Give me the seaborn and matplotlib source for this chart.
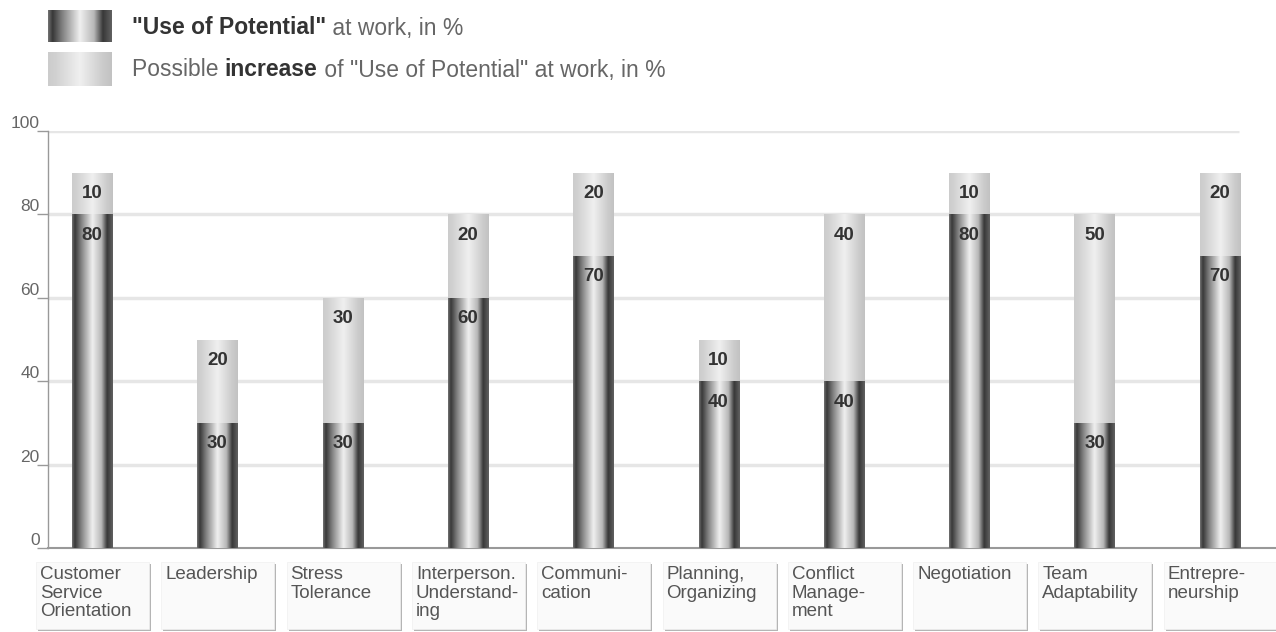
import numpy as np
import pandas as pd
import matplotlib
matplotlib.use("Agg")
import matplotlib.pyplot as plt
import seaborn as sns
from matplotlib.patches import Rectangle

categories = ["Customer\nService\nOrientation", "Leadership", "Stress\nTolerance",
              "Interperson.\nUnderstand-\ning", "Communi-\ncation", "Planning,\nOrganizing",
              "Conflict\nManage-\nment", "Negotiation", "Team\nAdaptability", "Entrepre-\nneurship"]
use_of_potential = [80, 30, 30, 60, 70, 40, 40, 80, 30, 70]
possible_increase = [10, 20, 30, 20, 20, 10, 40, 10, 50, 20]
y_ticks = [0, 20, 40, 60, 80, 100]

W, H = 1276, 632
sns.set_theme(style="white")
plt.rcParams["font.family"] = ["Liberation Sans", "DejaVu Sans"]

df = pd.DataFrame({"cat": categories,
                   "use": use_of_potential,
                   "inc": possible_increase})
df["total"] = df["use"] + df["inc"]

fig = plt.figure(figsize=(W / 100, H / 100), dpi=100)
ax = fig.add_axes([48 / W, (H - 548) / H, (1275 - 48) / W, (548 - 131) / H])

# cylinder-ish gradients
def make_grad(pos, vals, n=200):
    x = np.linspace(0, 1, n)
    g = np.interp(x, pos, vals)
    return np.dstack([g, g, g])[0:1].repeat(2, axis=0)

dark_grad = make_grad([0, 0.07, 0.22, 0.5, 0.72, 0.86, 1.0],
                      [0.45, 0.22, 0.5, 0.94, 0.72, 0.22, 0.38])
light_grad = make_grad([0, 0.12, 0.5, 0.85, 1.0],
                       [0.80, 0.82, 0.94, 0.80, 0.76])

sns.barplot(data=df, x="cat", y="total", color="#dddddd", width=0.32, ax=ax,
            saturation=1, zorder=2)
n_light = len(ax.patches)
sns.barplot(data=df, x="cat", y="use", color="#555555", width=0.32, ax=ax,
            saturation=1, zorder=3)

for i, p in enumerate(ax.patches):
    grad = light_grad if i < n_light else dark_grad
    x0, y0 = p.get_x(), p.get_y()
    w, h = p.get_width(), p.get_height()
    im = ax.imshow(grad, extent=[x0, x0 + w, y0, y0 + h], aspect="auto",
                   zorder=p.get_zorder(), interpolation="bilinear")
    im.set_clip_path(p)
    p.set_alpha(0)

ax.set_xlim(-0.351, 9.44)
ax.set_ylim(0, 100)

# gridlines
ax.hlines(y_ticks[1:], -0.351, 9.15, color="#e6e6e6", lw=2.5, zorder=0)

# value labels
for i, (u, inc) in enumerate(zip(use_of_potential, possible_increase)):
    ax.text(i, u - 5, str(u), ha="center", va="center", fontsize=13.5,
            fontweight="bold", color="#333333", zorder=5)
    ax.text(i, u + inc - 5, str(inc), ha="center", va="center", fontsize=13.5,
            fontweight="bold", color="#333333", zorder=5)

for s in ["top", "right"]:
    ax.spines[s].set_visible(False)
ax.spines["left"].set_color("#999999")
ax.spines["left"].set_linewidth(1)
ax.spines["bottom"].set_color("#999999")
ax.spines["bottom"].set_linewidth(1.5)
ax.set_yticks(y_ticks)
ax.tick_params(axis="y", length=8, width=1, color="#999999", labelsize=12.5,
               labelcolor="#666666", pad=-2, left=True)
for lab in ax.get_yticklabels():
    lab.set_va("bottom")
ax.set_xticks([])
ax.set_xlabel("")
ax.set_ylabel("")

# category label boxes
for i, cat in enumerate(categories):
    cx = 92 + 125.3 * i
    bx, by, bw, bh = cx - 56, H - 629, 113, 629 - 562
    fig.patches.append(Rectangle((bx + 2, by - 2), bw, bh, transform=None,
                                 facecolor="#b5b5b5", edgecolor="none", zorder=1))
    fig.patches.append(Rectangle((bx, by), bw, bh, transform=None,
                                 facecolor="#fafafa", edgecolor="#f0f0f0", lw=0.5, zorder=2))
    fig.text((bx + 4) / W, 1 - 566 / H, cat, ha="left", va="top", fontsize=13.5,
             color="#555555", linespacing=1.12)

# legend
lax1 = fig.add_axes([48 / W, 1 - 42 / H, 64 / W, 32 / H])
lax1.imshow(dark_grad, aspect="auto", interpolation="bilinear")
lax2 = fig.add_axes([48 / W, 1 - 86 / H, 64 / W, 34 / H])
lax2.imshow(light_grad, aspect="auto", interpolation="bilinear")
for a in (lax1, lax2):
    a.set_axis_off()

renderer = fig.canvas.get_renderer()

def rich_text(x_px, y_px, parts):
    x = x_px
    for txt, bold in parts:
        t = fig.text(x / W, 1 - y_px / H, txt, ha="left", va="center", fontsize=16.5,
                     fontweight="bold" if bold else "normal",
                     color="#333333" if bold else "#666666")
        bb = t.get_window_extent(renderer=renderer)
        x += bb.width

rich_text(132, 28, [("\"Use of Potential\"", True), (" at work, in %", False)])
rich_text(132, 70, [("Possible ", False), ("increase", True),
                    (" of \"Use of Potential\" at work, in %", False)])

fig.savefig("out.png", dpi=100)
